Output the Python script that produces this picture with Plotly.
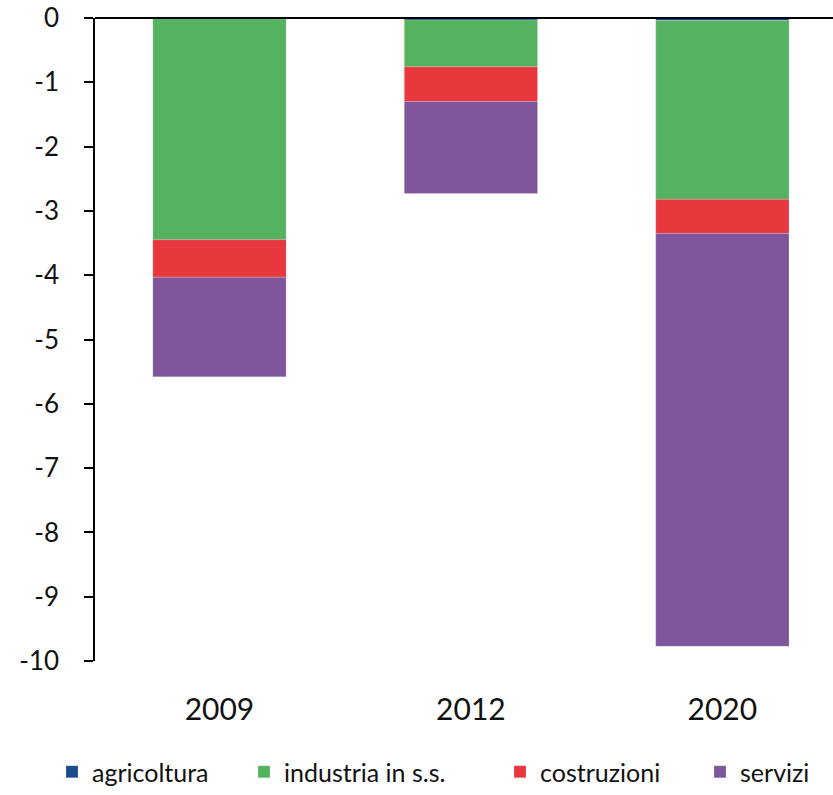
import plotly.graph_objects as go

years = ["2009", "2012", "2020"]
agricoltura = [-0.01, -0.03, -0.04]
industria = [-3.44, -0.73, -2.78]
costruzioni = [-0.58, -0.54, -0.53]
servizi = [-1.55, -1.43, -6.42]

y_ticks = [0, -1, -2, -3, -4, -5, -6, -7, -8, -9, -10]
y_tick_text = ["0", "-1", "-2", "-3", "-4", "-5", "-6", "-7", "-8", "-9", "-10"]

series = [
    ("agricoltura", agricoltura, "#1D4A91"),
    ("industria in s.s.", industria, "#55B260"),
    ("costruzioni", costruzioni, "#E8373D"),
    ("servizi", servizi, "#7F569C"),
]

# one legend per series so each entry can sit at its own spot along the bottom
legend_names = ["legend", "legend2", "legend3", "legend4"]
legend_left = [52, 244, 500, 700]

fig = go.Figure()
for (name, vals, color), lg in zip(series, legend_names):
    fig.add_trace(go.Bar(
        x=years, y=vals, name=name, width=0.53, legend=lg,
        marker=dict(color=color, line=dict(color="rgba(255,255,255,0.35)", width=0.5)),
    ))

legend_style = dict(
    orientation="h", xref="container", yref="container",
    xanchor="left", y=-0.005, yanchor="bottom",
    font=dict(size=25), bgcolor="rgba(0,0,0,0)",
)
layout_legends = {lg: dict(legend_style, x=left / 833) for lg, left in zip(legend_names, legend_left)}

fig.update_layout(
    barmode="relative",
    width=833, height=795,
    margin=dict(l=95, r=0, t=18, b=134),
    plot_bgcolor="white", paper_bgcolor="white",
    font=dict(family="Lato", color="#111111"),
    showlegend=True,
    xaxis=dict(
        type="category", range=[-0.495, 2.44], showline=False, showgrid=False,
        ticks="", tickfont=dict(size=30), ticklabelstandoff=28,
    ),
    yaxis=dict(
        range=[-10, 0], tickvals=y_ticks, ticktext=y_tick_text,
        showgrid=False, zeroline=False,
        showline=True, linecolor="black", linewidth=1.5,
        ticks="outside", ticklen=9, tickwidth=1.5, tickcolor="black",
        tickfont=dict(size=26), ticklabelstandoff=20,
    ),
    shapes=[dict(type="line", xref="paper", yref="paper", x0=0, x1=1, y0=1, y1=1,
                 line=dict(color="black", width=2))],
    **layout_legends,
)

fig.write_html("out.html")
